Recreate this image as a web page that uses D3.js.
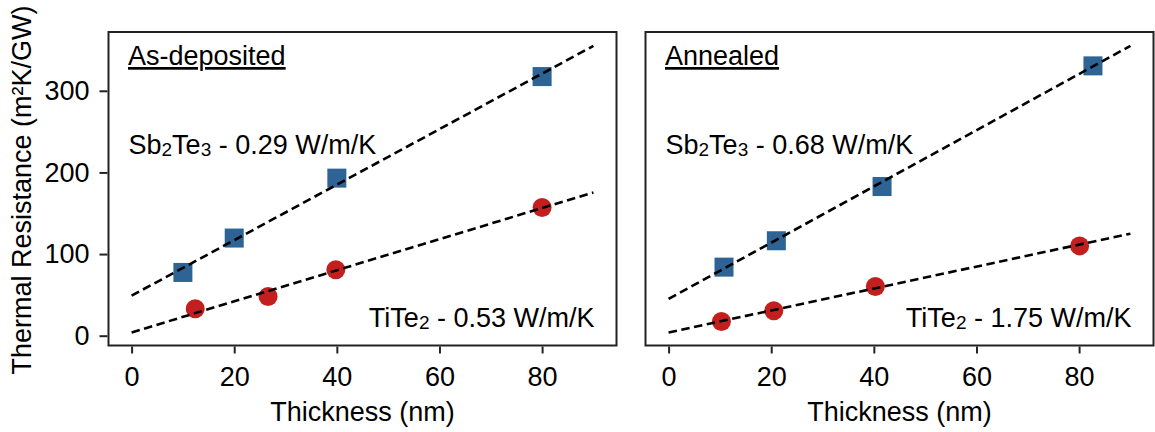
<!DOCTYPE html>
<html>
<head>
<meta charset="utf-8">
<script src="https://cdn.jsdelivr.net/npm/d3@7"></script>
<style>
	body { margin: 0; background: #fff; }
	svg text { font-family: "Liberation Sans", Arial, sans-serif; fill: #000; }
</style>
</head>
<body>
<svg id="svg" width="1155" height="432"></svg>
<script>
// values
const xTicks = [0, 20, 40, 60, 80];
const yTicks = [0, 100, 200, 300];

// as-deposited
const sbDepX = [10, 20, 40, 80];
const sbDepY = [77.5, 119.6, 193, 317.4];
const tiDepX = [12.4, 26.6, 39.8, 80];
const tiDepY = [33, 48, 80.8, 157];
const sbDepFit = [[0, 49], [90, 355]];
const tiDepFit = [[0, 4], [90, 175.4]];

// annealed
const sbAnnX = [10.8, 21, 41.6, 82.7];
const sbAnnY = [84, 116.3, 182.7, 330.5];
const tiAnnX = [10.3, 20.5, 40.3, 80.1];
const tiAnnY = [17.5, 30.6, 60.3, 110];
const sbAnnFit = [[0, 45], [90, 355]];
const tiAnnFit = [[0, 4], [90, 125]];

const panelTitles = ['As-deposited', 'Annealed'];
const sbLabels = ['0.29 W/m/K', '0.68 W/m/K'];
const tiLabels = ['0.53 W/m/K', '1.75 W/m/K'];

const BLUE = '#2d6395', RED = '#c21f1e', FRAME = '#222';
const FS = 27, SUB = 19;

let panels = [
	{ left: 108.5, sbX: sbDepX, sbY: sbDepY, tiX: tiDepX, tiY: tiDepY, sbFit: sbDepFit, tiFit: tiDepFit, yAxis: true },
	{ left: 645.5, sbX: sbAnnX, sbY: sbAnnY, tiX: tiAnnX, tiY: tiAnnY, sbFit: sbAnnFit, tiFit: tiAnnFit, yAxis: false },
];

const panel_width = 508, plot_top = 32, plot_bottom = 345.5;
const svg = d3.select('#svg');

let y = d3.scaleLinear().domain([-12, 372]).range([plot_bottom, plot_top]);

panels.forEach((p, i) => {
	let x = d3.scaleLinear().domain([-4.5, 94.5]).range([p.left, p.left + panel_width]);
	let g = svg.append('g');

	// markers
	g.selectAll('.sq').data(d3.zip(p.sbX, p.sbY))
		.enter().append('rect')
		.attr('x', d => x(d[0]) - 9.5).attr('y', d => y(d[1]) - 9.5)
		.attr('width', 19).attr('height', 19)
		.attr('fill', BLUE);
	g.selectAll('.ci').data(d3.zip(p.tiX, p.tiY))
		.enter().append('circle')
		.attr('cx', d => x(d[0])).attr('cy', d => y(d[1]))
		.attr('r', 9.5)
		.attr('fill', RED);

	// fit lines on top
	let line = d3.line().x(d => x(d[0])).y(d => y(d[1]));
	[p.sbFit, p.tiFit].forEach(f => {
		g.append('path').attr('d', line(f))
			.attr('fill', 'none').attr('stroke', '#000')
			.attr('stroke-width', 2.6).attr('stroke-dasharray', '8.5,4.5');
	});

	// frame
	g.append('rect')
		.attr('x', p.left).attr('y', plot_top)
		.attr('width', panel_width).attr('height', plot_bottom - plot_top)
		.attr('fill', 'none').attr('stroke', FRAME).attr('stroke-width', 2);

	// x axis
	let xa = g.append('g').attr('transform', `translate(0,${plot_bottom + 1})`)
		.call(d3.axisBottom(x).tickValues(xTicks).tickSize(7).tickPadding(13));
	xa.select('.domain').remove();
	xa.selectAll('line').attr('stroke', FRAME).attr('stroke-width', 2);
	xa.selectAll('text').attr('font-size', FS).attr('font-family', '"Liberation Sans", Arial, sans-serif').attr('fill', '#000');

	if (p.yAxis) {
		let ya = g.append('g').attr('transform', `translate(${p.left - 1},0)`)
			.call(d3.axisLeft(y).tickValues(yTicks).tickSize(8).tickPadding(10));
		ya.select('.domain').remove();
		ya.selectAll('line').attr('stroke', FRAME).attr('stroke-width', 2);
		ya.selectAll('text').attr('font-size', FS).attr('font-family', '"Liberation Sans", Arial, sans-serif').attr('fill', '#000');
	}

	// x label
	g.append('text')
		.attr('x', p.left + panel_width / 2).attr('y', 421)
		.attr('text-anchor', 'middle').attr('font-size', FS)
		.text('Thickness (nm)');

	// panel title
	g.append('text')
		.attr('x', p.left + 19.5).attr('y', 65)
		.attr('font-size', FS).attr('text-decoration', 'underline')
		.text(panelTitles[i]);

	// Sb2Te3 label
	let t1 = g.append('text')
		.attr('x', p.left + 20).attr('y', 154).attr('font-size', FS);
	t1.append('tspan').text('Sb');
	t1.append('tspan').attr('font-size', SUB).attr('dy', 1.5).text('2');
	t1.append('tspan').attr('dy', -1.5).text('Te');
	t1.append('tspan').attr('font-size', SUB).attr('dy', 1.5).text('3');
	t1.append('tspan').attr('dy', -1.5).text(' - ' + sbLabels[i]);

	// TiTe2 label
	let t2 = g.append('text')
		.attr('x', p.left + panel_width - 22).attr('y', 327)
		.attr('text-anchor', 'end').attr('font-size', FS);
	t2.append('tspan').text('TiTe');
	t2.append('tspan').attr('font-size', SUB).attr('dy', 1.5).text('2');
	t2.append('tspan').attr('dy', -1.5).text(' - ' + tiLabels[i]);
});

// y label
svg.append('text')
	.attr('transform', 'translate(31,190) rotate(-90)')
	.attr('text-anchor', 'middle').attr('font-size', FS)
	.text('Thermal Resistance (m²K/GW)');
</script>
</body>
</html>
